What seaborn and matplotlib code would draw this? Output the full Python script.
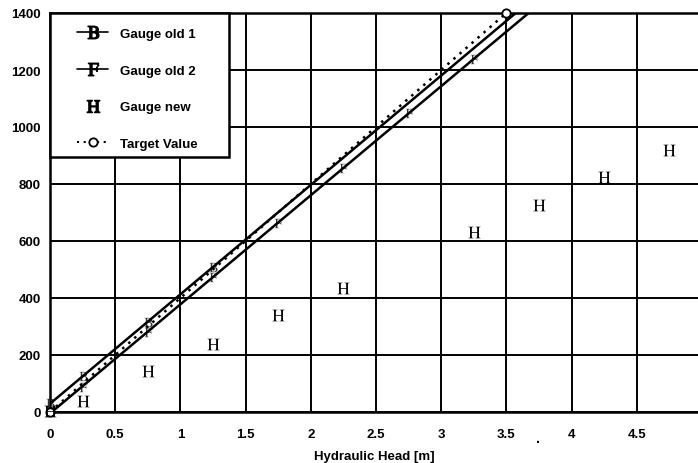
import matplotlib
matplotlib.use("Agg")
import matplotlib.pyplot as plt
from matplotlib.lines import Line2D
from matplotlib.patches import Rectangle
from matplotlib.ticker import MultipleLocator
import seaborn as sns

# Flow readings against hydraulic head for each gauge
head_old1 = [0.0, 0.25, 0.75, 1.25]
flow_old1 = [30, 125, 315, 510]

head_old2 = [0.0, 0.25, 0.75, 1.25, 1.75, 2.25, 2.75, 3.25]
flow_old2 = [0, 88, 280, 472, 664, 856, 1048, 1240]

head_new = [0.0, 0.25, 0.75, 1.25, 1.75, 2.25, 3.25, 3.75, 4.25, 4.75]
flow_new = [5, 40, 145, 240, 340, 435, 630, 725, 825, 920]

head_target = [0.0, 3.5]
flow_target = [0, 1400]

series_labels = ["Gauge old 1", "Gauge old 2", "Gauge new", "Target Value"]
x_ticks = [0, 0.5, 1, 1.5, 2, 2.5, 3, 3.5, 4, 4.5]
x_tick_labels = ["0", "0.5", "1", "1.5", "2", "2.5", "3", "3.5", "4", "4.5"]
y_ticks = [0, 200, 400, 600, 800, 1000, 1200, 1400]
y_tick_labels = ["0", "200", "400", "600", "800", "1000", "1200", "1400"]

sns.set_style("white")
plt.rcParams["font.family"] = ["Liberation Sans", "DejaVu Sans"]
plt.rcParams["mathtext.fontset"] = "stix"
plt.rcParams["text.color"] = "black"
plt.rcParams["axes.labelcolor"] = "black"
plt.rcParams["xtick.color"] = "black"
plt.rcParams["ytick.color"] = "black"

MK_B = r"$\mathrm{B}$"
MK_F = r"$\mathrm{F}$"
MK_H = r"$\mathrm{H}$"

W, H = 698, 464
fig = plt.figure(figsize=(W / 100, H / 100), dpi=100)
ax_w, ax_h = 648, 399
ax = fig.add_axes([50 / W, 1 - 413 / H, ax_w / W, ax_h / H])
ax.set_xlim(0, 4.97)
ax.set_ylim(0, 1400)

# fitted lines for the two old gauges, extended over the whole axis
sns.regplot(x=head_old1, y=flow_old1, ax=ax, ci=None, truncate=False,
            color="black", marker=MK_B,
            scatter_kws=dict(s=45, clip_on=False, linewidths=0, zorder=4),
            line_kws=dict(lw=1.8, zorder=3))
sns.regplot(x=head_old2, y=flow_old2, ax=ax, ci=None, truncate=False,
            color="black", marker=MK_F,
            scatter_kws=dict(s=45, clip_on=False, linewidths=0, zorder=4),
            line_kws=dict(lw=1.8, zorder=3))

# target relation
sns.lineplot(x=head_target, y=flow_target, ax=ax, color="black",
             linestyle=(0, (1, 2.2)), lw=1.8, marker="o", markersize=6,
             markerfacecolor="white", markeredgecolor="black",
             markeredgewidth=1.3, clip_on=False, zorder=4)

# new gauge readings
sns.scatterplot(x=head_new, y=flow_new, ax=ax, marker=MK_H, s=75,
                color="black", linewidth=0, clip_on=False, legend=False,
                zorder=4)

ax.set_xlim(0, 4.97)
ax.set_ylim(0, 1400)
ax.set_xticks(x_ticks)
ax.set_xticklabels(x_tick_labels)
ax.set_yticks(y_ticks)
ax.set_yticklabels(y_tick_labels)
ax.xaxis.set_minor_locator(MultipleLocator(0.1))
ax.yaxis.set_minor_locator(MultipleLocator(50))

ax.grid(True, which="major", color="black", lw=1.4)
ax.set_axisbelow(True)
ax.tick_params(axis="x", which="major", direction="inout", length=7,
               width=1.3, labelsize=9.5, pad=8)
ax.tick_params(axis="y", which="major", direction="inout", length=7,
               width=1.3, labelsize=9.5, pad=3)
ax.tick_params(which="minor", direction="inout", length=4, width=1.0)
for lab in ax.get_xticklabels() + ax.get_yticklabels():
    lab.set_fontweight("bold")

for side in ("left", "bottom", "top"):
    ax.spines[side].set_color("black")
    ax.spines[side].set_linewidth(1.8)
ax.spines["right"].set_visible(False)

ax.set_xlabel("Hydraulic Head [m]", fontsize=9.5, fontweight="bold",
              labelpad=7)
ax.set_ylabel("")
ax.text(3.74, -0.065, ".", transform=ax.get_xaxis_transform(),
        ha="center", va="center", fontsize=10, fontweight="bold")

# legend box: white panel with a black frame in the top-left corner
ax.add_patch(Rectangle((0, 1 - 144 / ax_h), 179 / ax_w, 144 / ax_h,
                       transform=ax.transAxes, facecolor="white",
                       edgecolor="black", lw=1.8, zorder=5, clip_on=False))

handles = [
    Line2D([], [], color="black", lw=1.2, marker=MK_B, markersize=9),
    Line2D([], [], color="black", lw=1.2, marker=MK_F, markersize=9),
    Line2D([], [], color="black", ls="none", marker=MK_H, markersize=9),
    Line2D([], [], color="black", lw=1.5, ls=(0, (1, 2.2)), marker="o",
           markersize=6, markerfacecolor="white", markeredgewidth=1.3),
]
leg = ax.legend(handles, series_labels, loc="upper left",
                bbox_to_anchor=(27 / ax_w, 1 - 14.5 / ax_h),
                borderaxespad=0, borderpad=0, frameon=False,
                prop={"size": 9.5, "weight": "bold"}, labelspacing=1.86,
                handlelength=2.35, handletextpad=0.9)
leg.set_zorder(6)

fig.savefig("out.png", dpi=100)
